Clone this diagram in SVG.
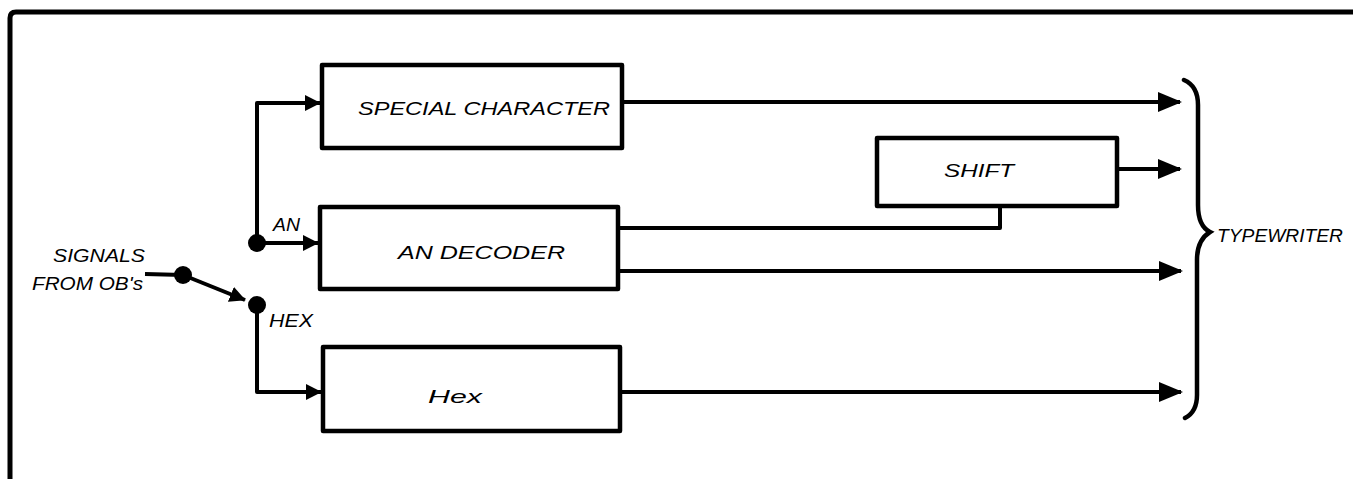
<svg xmlns="http://www.w3.org/2000/svg" width="1353" height="479" viewBox="0 0 1353 479">
  <style>
    .frame { fill: none; stroke: #000; stroke-width: 5; }
    .box { fill: #fff; stroke: #000; stroke-width: 4.5; stroke-linejoin: round; }
    .wire { fill: none; stroke: #000; stroke-width: 4; stroke-linejoin: round; }
    .brace { fill: none; stroke: #000; stroke-width: 4.5; stroke-linecap: round; }
    .lbl { font-family: "Liberation Sans", "DejaVu Sans", sans-serif; font-style: italic; font-size: 18px; fill: #000; }
  </style>
  <defs>
    <marker id="head" markerWidth="6" markerHeight="5" refX="5.5" refY="2.5" orient="auto" markerUnits="strokeWidth">
      <path d="M0,0 L6,2.5 L0,5 Z" fill="#000"/>
    </marker>
    <marker id="tip" markerWidth="4" markerHeight="4" refX="3.8" refY="2" orient="auto" markerUnits="strokeWidth">
      <path d="M0,0 L4,2 L0,4 Z" fill="#000"/>
    </marker>
  </defs>

  <rect width="1353" height="479" fill="#fff"/>

  <!-- outer sheet border -->
  <path class="frame" d="M10,479 L10,18 Q10,12 16,12 L1353,12"/>

  <!-- signal routing -->
  <g id="connectors">
    <!-- input to selector -->
    <path class="wire" d="M145,274 L183,275"/>
    <path class="wire" d="M183,275 L245,300" marker-end="url(#tip)"/>
    <!-- AN branch -->
    <path class="wire" d="M257,243 L257,103 L320,103" marker-end="url(#tip)"/>
    <path class="wire" d="M257,243 L318,243" marker-end="url(#tip)"/>
    <!-- HEX branch -->
    <path class="wire" d="M257,305 L257,392 L321,392" marker-end="url(#tip)"/>
    <!-- outputs to typewriter -->
    <path class="wire" d="M622,102 L1180,102" marker-end="url(#head)"/>
    <path class="wire" d="M1117,169 L1180,169" marker-end="url(#head)"/>
    <path class="wire" d="M618,228 L1000,228 L1000,206"/>
    <path class="wire" d="M618,271 L1181,271" marker-end="url(#head)"/>
    <path class="wire" d="M620,392 L1181,392" marker-end="url(#head)"/>
    <!-- junction dots -->
    <circle cx="183" cy="275" r="9" fill="#000"/>
    <circle cx="257" cy="243" r="9" fill="#000"/>
    <circle cx="257" cy="305" r="9" fill="#000"/>
  </g>

  <g id="input-label">
    <text class="lbl" x="53" y="262" textLength="92" lengthAdjust="spacingAndGlyphs">SIGNALS</text>
    <text class="lbl" x="32" y="290" textLength="111" lengthAdjust="spacingAndGlyphs">FROM OB's</text>
  </g>
  <g id="an-label">
    <text class="lbl" x="273" y="231" textLength="27" lengthAdjust="spacingAndGlyphs">AN</text>
  </g>
  <g id="hex-label">
    <text class="lbl" x="269" y="327" textLength="44" lengthAdjust="spacingAndGlyphs">HEX</text>
  </g>

  <g id="special-character">
    <rect class="box" x="322" y="65" width="300" height="83"/>
    <text class="lbl" x="358" y="115" textLength="252" lengthAdjust="spacingAndGlyphs">SPECIAL CHARACTER</text>
  </g>

  <g id="an-decoder">
    <rect class="box" x="320" y="207" width="298" height="82"/>
    <text class="lbl" x="398" y="259" textLength="167" lengthAdjust="spacingAndGlyphs">AN DECODER</text>
  </g>

  <g id="shift">
    <rect class="box" x="877" y="138" width="240" height="68"/>
    <text class="lbl" x="944" y="177" textLength="70" lengthAdjust="spacingAndGlyphs">SHIFT</text>
  </g>

  <g id="hex">
    <rect class="box" x="323" y="347" width="297" height="84"/>
    <text class="lbl" x="428" y="403" textLength="54" lengthAdjust="spacingAndGlyphs" font-size="21">Hex</text>
  </g>

  <g id="typewriter">
    <path class="brace" d="M1184,80 Q1198,86 1198,105 L1198,205 Q1198,226 1210,232 Q1197,240 1197,260 L1197,395 Q1197,412 1185,418"/>
    <text class="lbl" x="1217" y="242" textLength="126" lengthAdjust="spacingAndGlyphs">TYPEWRITER</text>
  </g>
</svg>
